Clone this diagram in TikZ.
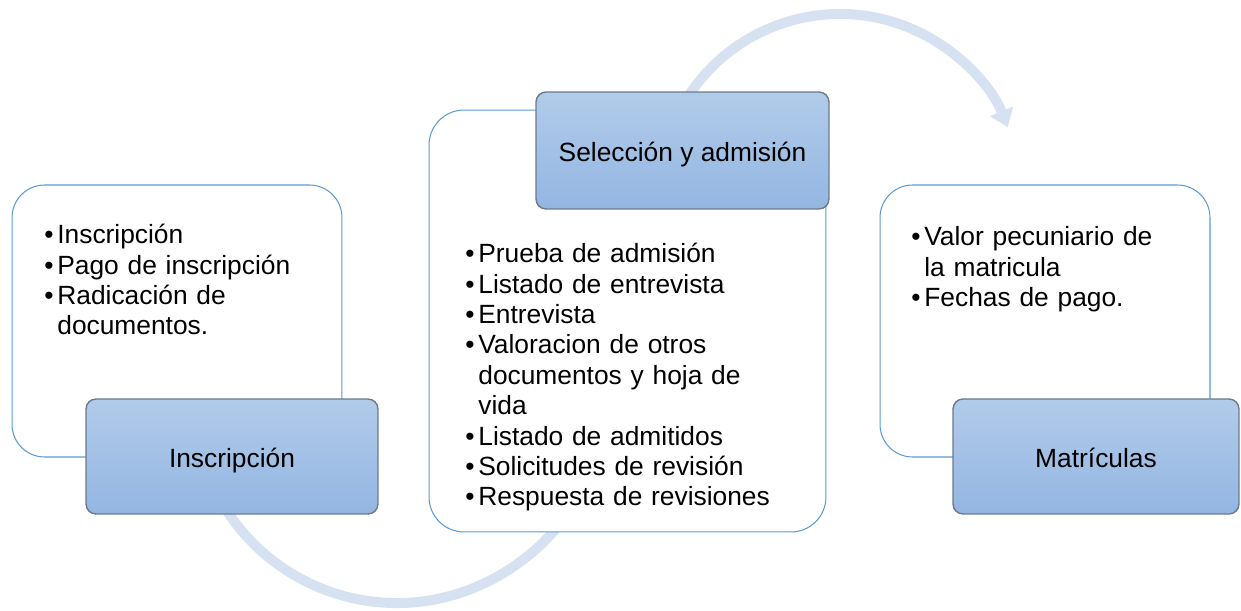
\documentclass[tikz,border=0pt]{standalone}
\usepackage{fontspec}
\setmainfont{Liberation Sans}
\usetikzlibrary{arrows.meta}
\definecolor{flowline}{HTML}{5B9BD5}
\definecolor{flowtop}{HTML}{B2CBEA}
\definecolor{flowbottom}{HTML}{93B6E2}
\definecolor{flowedge}{HTML}{6B7A8E}
\definecolor{flowarc}{HTML}{D6E2F2}
% bullet item with hanging indent
\newcommand{\bul}{\par\hangindent=0.26cm\hangafter=1\noindent\makebox[0.26cm][l]{\textbullet}}

\begin{document}
\begin{tikzpicture}[x=0.02cm, y=-0.02cm,
    every node/.style={font=\fontsize{15}{17.3}\selectfont},
    listbox/.style={rectangle, draw=flowline, fill=white, line width=0.6pt, rounded corners=0.65cm},
    stagebox/.style={rectangle, draw=flowedge, top color=flowtop, bottom color=flowbottom, line width=0.8pt, rounded corners=0.2cm, align=center, text height=12.5pt, text depth=0pt},
    itemtext/.style={anchor=north west, inner sep=0pt, align=left},
    flowarrow/.style={line width=0.2cm, flowarc, -{Triangle[width=0.48cm, length=0.34cm]}}]
    \useasboundingbox (0,0) rectangle (1241,611);

    % Curved arrows behind the boxes
    \coordinate (topc) at (840,195);
    \coordinate (botc) at (397,400);
    \draw[flowarrow] (botc) ++(160:203) arc[start angle=160, end angle=25, radius=203];
    \draw[flowarrow] (topc) ++(205:181) arc[start angle=205, end angle=338, radius=181];

    % List boxes
    \node[listbox, minimum width=6.6cm, minimum height=5.44cm] (insbox) at (177,321) {};
    \node[listbox, minimum width=7.94cm, minimum height=8.44cm, rounded corners=0.7cm] (selbox) at (627.5,321) {};
    \node[listbox, minimum width=6.6cm, minimum height=5.44cm] (matbox) at (1045,321) {};

    % Stage titles
    \node[stagebox, minimum width=5.84cm, minimum height=2.3cm] (ins) at (232,456.5) {Inscripción};
    \node[stagebox, minimum width=5.86cm, minimum height=2.34cm] (sel) at (682.5,150.5) {Selección y admisión};
    \node[stagebox, minimum width=5.72cm, minimum height=2.3cm] (mat) at (1096,456.5) {Matrículas};

    % Item lists
    \node[itemtext, text width=6cm] (inslist) at (44,213)
        {\bul Inscripción \bul Pago de inscripción \bul Radicación de\newline documentos.\par};
    \node[itemtext, text width=7cm] (sellist) at (465,232)
        {\bul Prueba de admisión \bul Listado de entrevista \bul Entrevista
         \bul Valoracion de otros\newline documentos y hoja de\newline vida
         \bul Listado de admitidos \bul Solicitudes de revisión \bul Respuesta de revisiones\par};
    \node[itemtext, text width=6cm] (matlist) at (911,215)
        {\bul Valor pecuniario de\newline la matricula \bul Fechas de pago.\par};
\end{tikzpicture}
\end{document}
